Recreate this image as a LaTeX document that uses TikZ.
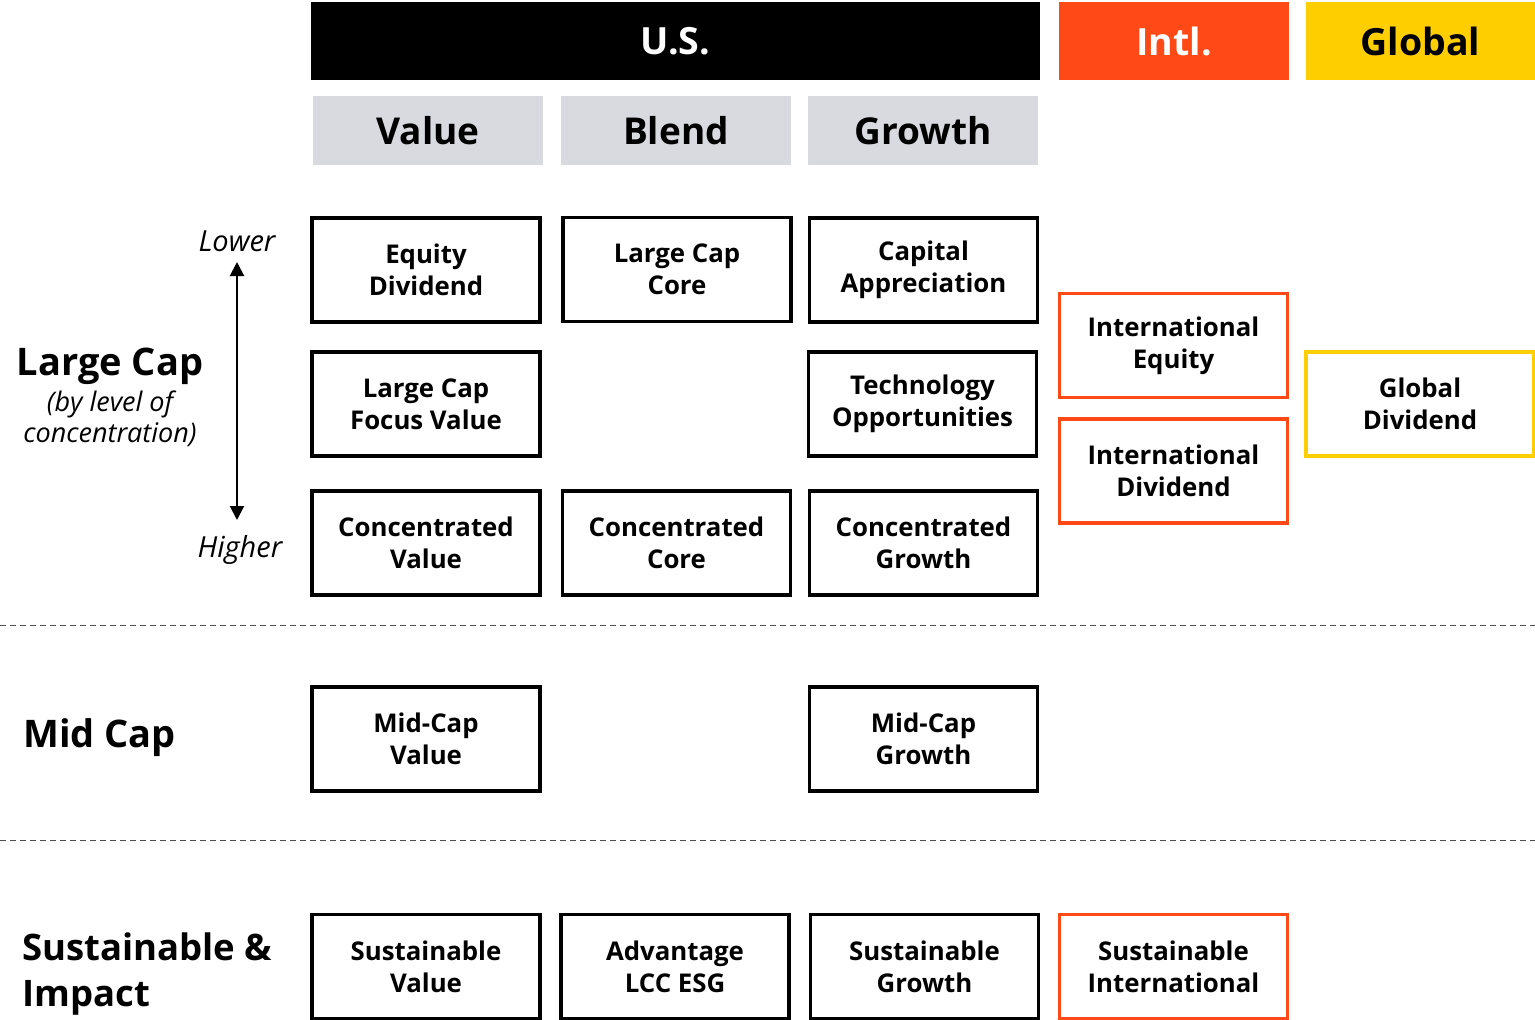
\documentclass[tikz,border=0pt]{standalone}
\usepackage{fontspec}
\setmainfont{Open Sans}
\usetikzlibrary{arrows.meta}
\definecolor{intl}{HTML}{FF4A17}
\definecolor{glob}{HTML}{FFCE00}
\definecolor{subg}{HTML}{D9D9E0}
\begin{document}
\begin{tikzpicture}[x=1pt,y=-1pt,
  fund/.style={draw=black,line width=3.5pt,minimum width=228pt,minimum height=104pt,
    align=center,inner sep=0pt,font=\fontsize{25.8}{32}\selectfont\bfseries},
  intlbox/.style={fund,draw=intl},
  globbox/.style={fund,draw=glob},
  tophead/.style={minimum height=78pt,inner sep=0pt,font=\fontsize{37.5}{40}\selectfont\bfseries},
  subhead/.style={fill=subg,minimum width=230pt,minimum height=69pt,inner sep=0pt,
    font=\fontsize{37}{40}\selectfont\bfseries},
  rowlabel/.style={font=\fontsize{38}{46}\selectfont\bfseries,inner sep=0pt},
  italabel/.style={font=\fontsize{29}{31}\selectfont\itshape,inner sep=0pt},
  sep/.style={dashed,dash pattern=on 6pt off 4pt,line width=1pt,black!70}
]
\useasboundingbox (0,0) rectangle (1535,1020);
% top headers
\node[tophead,fill=black,text=white,minimum width=729pt] (us) at (675.5,41) {U.S.};
\node[tophead,fill=intl,text=white,minimum width=230pt] (intlh) at (1174,41) {Intl.};
\node[tophead,fill=glob,text=black,minimum width=229pt] (globh) at (1420.5,41) {Global};
% sub headers
\node[subhead] (val) at (428,130.5) {Value};
\node[subhead] (bld) at (676,130.5) {Blend};
\node[subhead] (grw) at (923,130.5) {Growth};
% large cap
\node[fund] (eqd) at (426,270) {Equity\\Dividend};
\node[fund] (lcc) at (677,269.5) {Large Cap\\Core};
\node[fund] (cap) at (923.5,270) {Capital\\Appreciation};
\node[fund] (lcf) at (426,404) {Large Cap\\Focus Value};
\node[fund] (tec) at (922.5,404) {Technology\\Opportunities};
\node[fund] (cvl) at (426,543) {Concentrated\\Value};
\node[fund] (ccr) at (676.5,543) {Concentrated\\Core};
\node[fund] (cgr) at (923.5,543) {Concentrated\\Growth};
\node[intlbox] (ieq) at (1173.5,345.5) {International\\Equity};
\node[intlbox] (idv) at (1173.5,471) {International\\Dividend};
\node[globbox] (gdv) at (1420,404) {Global\\Dividend};
% mid cap
\node[fund] (mcv) at (426,739) {Mid-Cap\\Value};
\node[fund] (mcg) at (923.5,739) {Mid-Cap\\Growth};
% sustainable
\node[fund] (sv) at (426,966.5) {Sustainable\\Value};
\node[fund] (adv) at (675,966.5) {Advantage\\LCC ESG};
\node[fund] (sg) at (924.5,966.5) {Sustainable\\Growth};
\node[intlbox] (si) at (1173.5,966.5) {Sustainable\\International};
% row labels
\node[rowlabel] (lc) at (110,366) {Large Cap};
\node[italabel,font=\fontsize{27}{31}\selectfont\itshape,align=center] (blc) at (110,419) {(by level of\\concentration)};
\node[italabel] (lo) at (237,241) {Lower};
\node[italabel] (hi) at (240,550) {Higher};
\coordinate (atop) at (237,262);
\coordinate (abot) at (237,520);
\draw[line width=2pt,{Triangle[length=14pt,width=14pt]}-{Triangle[length=14pt,width=14pt]}] (atop) -- (abot);
\node[rowlabel,anchor=west] (mc) at (23,738) {Mid Cap};
\node[rowlabel,anchor=west,align=left,font=\fontsize{36.5}{46}\selectfont\bfseries] (si2) at (22,974) {Sustainable \&\\Impact};
% separators
\coordinate (s1a) at (0,625); \coordinate (s1b) at (1535,625);
\coordinate (s2a) at (0,840); \coordinate (s2b) at (1535,840);
\draw[sep] (s1a) -- (s1b);
\draw[sep] (s2a) -- (s2b);
\end{tikzpicture}
\end{document}
